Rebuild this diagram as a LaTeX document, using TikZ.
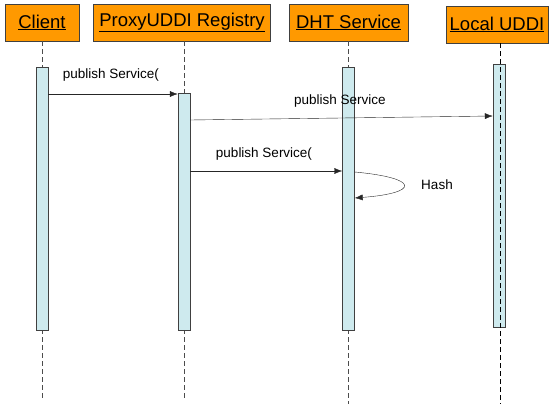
\documentclass[tikz,border=0pt]{standalone}
\usepackage{fontspec}
\setmainfont{Liberation Sans}
\usetikzlibrary{arrows.meta}

\definecolor{headorange}{RGB}{255,153,0}
\definecolor{barblue}{RGB}{206,234,238}
\definecolor{edgegray}{RGB}{64,64,64}

\tikzset{
  head/.style={draw=edgegray, fill=headorange, minimum height=37pt, inner sep=2pt,
    font=\fontsize{18.5}{20}\selectfont},
  bar/.style={draw=edgegray, fill=barblue, minimum width=12pt, inner sep=0pt},
  life/.style={black!70, dash pattern=on 5pt off 3pt},
  msg/.style={-{Latex[length=8pt,width=6pt]}, black!85},
  msglabel/.style={font=\fontsize{13.5}{15}\selectfont, inner sep=1pt}
}

\begin{document}
\begin{tikzpicture}[x=1pt,y=-1pt]
  \useasboundingbox (0,0) rectangle (551,404);

  %the objects on top
  \node[head, minimum width=74pt] (client) at (42,22.5) {\underline{Client}};
  \node[head, minimum width=177pt] (proxy) at (182,22.5) {\underline{ProxyUDDI Registry}};
  \node[head, minimum width=119pt] (dht) at (348.5,22.5) {\underline{DHT Service}};
  \node[head, minimum width=102pt] (local) at (497,24.5) {\underline{Local UDDI}};

  %lifelines, the bars are drawn over them
  \draw[life] (client.south) -- (client.south |- 0,398);
  \draw[life] (proxy.south -| 184,0) -- (184,398);
  \draw[life] (dht.south) -- (dht.south |- 0,404);

  %activation bars
  \node[bar, minimum height=263pt] (clientbar) at (42,198.5) {};
  \node[bar, minimum height=237pt] (proxybar) at (184,211.5) {};
  \node[bar, minimum height=263pt] (dhtbar) at (348.5,198.5) {};
  \node[bar, minimum height=263pt] (localbar) at (499,195.5) {};

  %this one runs over its bar
  \draw[black, dash pattern=on 5pt off 3pt] (local.south -| 500,0) -- (500,404);

  %messages
  \draw[msg] (clientbar.east |- 0,94) -- (proxybar.west |- 0,94);
  \node[msglabel] (lbl1) at (111,75) {publish Service(};

  \draw[msg] (proxybar.east |- 0,120) -- (localbar.west |- 0,116);
  \node[msglabel] (lbl2) at (340,101) {publish Service};

  \draw[msg] (proxybar.east |- 0,171) -- (dhtbar.west |- 0,171);
  \node[msglabel] (lbl3) at (264,154) {publish Service(};

  %self call on the DHT
  \draw[msg] (dhtbar.east |- 0,172) .. controls (420,178) and (420,193) .. (dhtbar.east |- 0,198);
  \node[msglabel] (lbl4) at (437,185) {Hash};
\end{tikzpicture}
\end{document}
